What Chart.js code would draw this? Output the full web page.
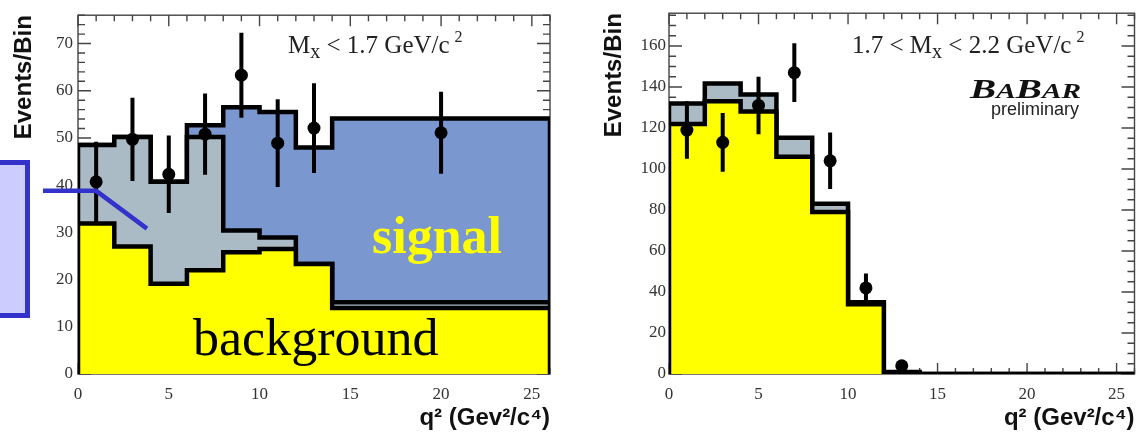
<!DOCTYPE html>
<html>
<head>
<meta charset="utf-8">
<title>q2 spectra</title>
<script src="https://cdn.jsdelivr.net/npm/chart.js@4.4.0/dist/chart.umd.min.js"></script>
<style>
  body { margin: 0; background: #fff; }
  #wrap { position: relative; width: 1141px; height: 436px; overflow: hidden; }
  canvas { position: absolute; top: 0; }
  .note { position: absolute; white-space: nowrap; line-height: 1; color: #222; }
  .serif { font-family: 'Liberation Serif', 'Times New Roman', serif; }
  .sans { font-family: 'Liberation Sans', Arial, sans-serif; }
  .sub { font-size: 20px; position: relative; top: 5px; }
  .sup { font-size: 16px; position: relative; top: -11px; margin-left: 5px; }
  .babar { font-weight: bold; font-style: italic; font-size: 21px; color: #111; transform: scaleX(1.4); transform-origin: left bottom; }
  .babar .big { font-size: 28px; }
  .callout { position: absolute; left: -20px; top: 160px; width: 50px; height: 158px; box-sizing: border-box;
             background: #ccccff; border: 5px solid #3333cc; }
</style>
</head>
<body>
<div id="wrap">
  <canvas id="lowMass" width="570" height="436" style="left:0"></canvas>
  <canvas id="highMass" width="571" height="436" style="left:570px"></canvas>
  <div class="callout"></div>
  <div class="note serif" style="left:288px; top:32px; font-size:25px">M<span class="sub">x</span> &lt; 1.7 GeV/c<span class="sup">2</span></div>
  <div class="note serif" style="left:372px; top:210px; font-size:52px; font-weight:bold; color:#ffff00">signal</div>
  <div class="note serif" style="left:193px; top:312px; font-size:52px; color:#000">background</div>
  <div class="note serif" style="left:852px; top:32px; font-size:25px">1.7 &lt; M<span class="sub">x</span> &lt; 2.2 GeV/c<span class="sup">2</span></div>
  <div class="note serif babar" style="left:970px; top:75px"><span class="big">B</span>A<span class="big">B</span>AR</div>
  <div class="note sans" style="left:991px; top:100px; font-size:18px">preliminary</div>
</div>
<script>
// q2 bins (GeV2/c4): 2-wide up to 14, then one wide bin to 26
const binEdges = [0, 2, 4, 6, 8, 10, 12, 14, 26];
const xTicks = [0, 5, 10, 15, 20, 25];

// Mx < 1.7 GeV/c2
const bkgLow = [31.9, 27.0, 19.1, 22.0, 25.8, 26.5, 23.3, 14.0];
const otherLow = [16.6, 23.2, 21.6, 28.2, 4.6, 2.4, 0.0, 1.2];
const signalLow = [0.0, 0.0, 0.0, 2.5, 26.1, 26.6, 24.7, 38.9];
const dataXLow = [1, 3, 5, 7, 9, 11, 13, 20];
const dataLow = [40.7, 49.7, 42.3, 50.8, 63.3, 48.9, 52.1, 51.1];
const errLow = [8.5, 8.8, 8.2, 8.6, 9.0, 9.3, 9.5, 8.7];
const yTicksLow = [0, 10, 20, 30, 40, 50, 60, 70];

// 1.7 < Mx < 2.2 GeV/c2
const bkgHigh = [122, 133, 128, 106, 79, 34, 0.5, 0];
const otherHigh = [10, 8.7, 8.4, 9.2, 4, 1, 0.5, 0];
const dataXHigh = [1, 3, 5, 7, 9, 11, 13];
const dataHigh = [119, 113, 131, 147, 104, 42, 4];
const errHigh = [14, 14.3, 14, 14.3, 13.8, 7, 2];
const yTicksHigh = [0, 20, 40, 60, 80, 100, 120, 140, 160];

const serif = "'Liberation Serif', 'Times New Roman', serif";
const sans = "'Liberation Sans', Arial, sans-serif";

// histogram outline: closed at both ends so the fill sits on the axis
function stepData(values) {
  const pts = [{ x: binEdges[0], y: 0 }];
  values.forEach((v, i) => pts.push({ x: binEdges[i], y: v }));
  pts.push({ x: binEdges[binEdges.length - 1], y: 0 });
  return pts;
}

function stack(...arrays) {
  return arrays[0].map((_, i) => arrays.reduce((s, a) => s + a[i], 0));
}

function layer(values, color, order) {
  return {
    data: stepData(values),
    stepped: 'before',
    fill: 'origin',
    backgroundColor: color,
    borderColor: '#000',
    borderWidth: 4.5,
    borderJoinStyle: 'miter',
    borderCapStyle: 'butt',
    pointRadius: 0,
    order
  };
}

function points(xs, ys) {
  return {
    data: xs.map((x, i) => ({ x, y: ys[i] })),
    showLine: false,
    pointRadius: 6.5,
    pointBackgroundColor: '#000',
    pointBorderWidth: 0,
    order: -1
  };
}

// frame with inward ticks on all four sides
const rootAxes = {
  id: 'rootAxes',
  beforeDatasetsDraw(chart, args, opts) {
    const { ctx, chartArea: a, scales: { x, y } } = chart;
    ctx.save();
    ctx.strokeStyle = '#444';
    ctx.lineWidth = 1.4;
    ctx.strokeRect(a.left, a.top, a.right - a.left, a.bottom - a.top);
    ctx.beginPath();
    for (let v = x.min; v <= x.max; v += opts.xMinor) {
      const px = x.getPixelForValue(v);
      const len = v % opts.xMajor === 0 ? 11 : 6;
      ctx.moveTo(px, a.top); ctx.lineTo(px, a.top + len);
      ctx.moveTo(px, a.bottom); ctx.lineTo(px, a.bottom - len);
    }
    for (let v = y.min; v <= y.max; v += opts.yMinor) {
      const py = y.getPixelForValue(v);
      const len = v % opts.yMajor === 0 ? 13 : 7;
      ctx.moveTo(a.left, py); ctx.lineTo(a.left + len, py);
      ctx.moveTo(a.right, py); ctx.lineTo(a.right - len, py);
    }
    ctx.stroke();
    ctx.restore();
  }
};

// symmetric vertical error bars on the data points
const errorBars = {
  id: 'errorBars',
  afterDatasetsDraw(chart, args, opts) {
    const { ctx, scales: { x, y } } = chart;
    const pts = chart.data.datasets[opts.dataset].data;
    ctx.save();
    ctx.strokeStyle = '#000';
    ctx.lineWidth = 4;
    ctx.beginPath();
    pts.forEach((p, i) => {
      const px = x.getPixelForValue(p.x);
      ctx.moveTo(px, y.getPixelForValue(p.y - opts.errors[i]));
      ctx.lineTo(px, y.getPixelForValue(p.y + opts.errors[i]));
    });
    ctx.stroke();
    ctx.restore();
  }
};

// blue pointer from the callout box into the plot
const pointer = {
  id: 'pointer',
  afterDraw(chart, args, opts) {
    if (!opts.path) return;
    const { ctx, scales: { x, y } } = chart;
    ctx.save();
    ctx.strokeStyle = '#3333cc';
    ctx.lineWidth = 4.5;
    ctx.lineJoin = 'miter';
    ctx.beginPath();
    opts.path.forEach(([vx, vy], i) => {
      const px = x.getPixelForValue(vx), py = y.getPixelForValue(vy);
      if (i === 0) ctx.moveTo(px, py); else ctx.lineTo(px, py);
    });
    ctx.stroke();
    ctx.restore();
  }
};

function makeChart(id, cfg) {
  return new Chart(document.getElementById(id), {
    type: 'line',
    data: { datasets: cfg.datasets },
    plugins: [rootAxes, errorBars, pointer],
    options: {
      responsive: false,
      animation: false,
      layout: { padding: { top: 9, right: cfg.padRight, bottom: 0, left: 0 } },
      plugins: {
        legend: { display: false },
        tooltip: { enabled: false },
        rootAxes: { xMinor: 1, xMajor: 5, yMinor: cfg.yMinor, yMajor: cfg.yMajor },
        errorBars: { dataset: 0, errors: cfg.errors },
        pointer: { path: cfg.pointer || null }
      },
      scales: {
        x: {
          type: 'linear',
          min: 0,
          max: 26,
          afterBuildTicks: s => { s.ticks = xTicks.map(v => ({ value: v })); },
          afterFit: s => { s.height = 62; },
          grid: { display: false, drawTicks: false },
          border: { display: false },
          ticks: { padding: 10, color: '#333', maxRotation: 0, autoSkip: false,
                   font: { family: serif, size: 17 } },
          title: { display: true, text: 'q² (Gev²/c⁴)', align: 'end', color: '#111',
                   font: { family: sans, weight: 'bold', size: 24 }, padding: { top: 0, bottom: 3 } }
        },
        y: {
          type: 'linear',
          min: 0,
          max: cfg.yMax,
          afterBuildTicks: s => { s.ticks = cfg.yTicks.map(v => ({ value: v })); },
          afterFit: s => { s.width = cfg.yWidth; },
          grid: { display: false, drawTicks: false },
          border: { display: false },
          ticks: { padding: cfg.tickPad, color: '#333', font: { family: serif, size: 17 } },
          title: { display: true, text: 'Events/Bin', align: 'end', color: '#111',
                   font: { family: sans, weight: 'bold', size: 24 }, padding: { top: cfg.titlePad, bottom: 0 } }
        }
      }
    }
  });
}

makeChart('lowMass', {
  datasets: [
    points(dataXLow, dataLow),
    layer(bkgLow, '#ffff00', 0),
    layer(stack(bkgLow, otherLow), '#aabbc5', 1),
    layer(stack(bkgLow, otherLow, signalLow), '#7a97cf', 2)
  ],
  errors: errLow,
  yMax: 76, yTicks: yTicksLow, yMinor: 2, yMajor: 10,
  yWidth: 78, padRight: 20, tickPad: 5, titlePad: 10,
  pointer: [[-1.93, 38.8], [1.0, 38.8], [3.8, 30.8]]
});

makeChart('highMass', {
  datasets: [
    points(dataXHigh, dataHigh),
    layer(bkgHigh, '#ffff00', 0),
    layer(stack(bkgHigh, otherHigh), '#aabbc5', 1)
  ],
  errors: errHigh,
  yMax: 176, yTicks: yTicksHigh, yMinor: 5, yMajor: 20,
  yWidth: 99, padRight: 1, tickPad: 3, titlePad: 30
});
</script>
</body>
</html>
